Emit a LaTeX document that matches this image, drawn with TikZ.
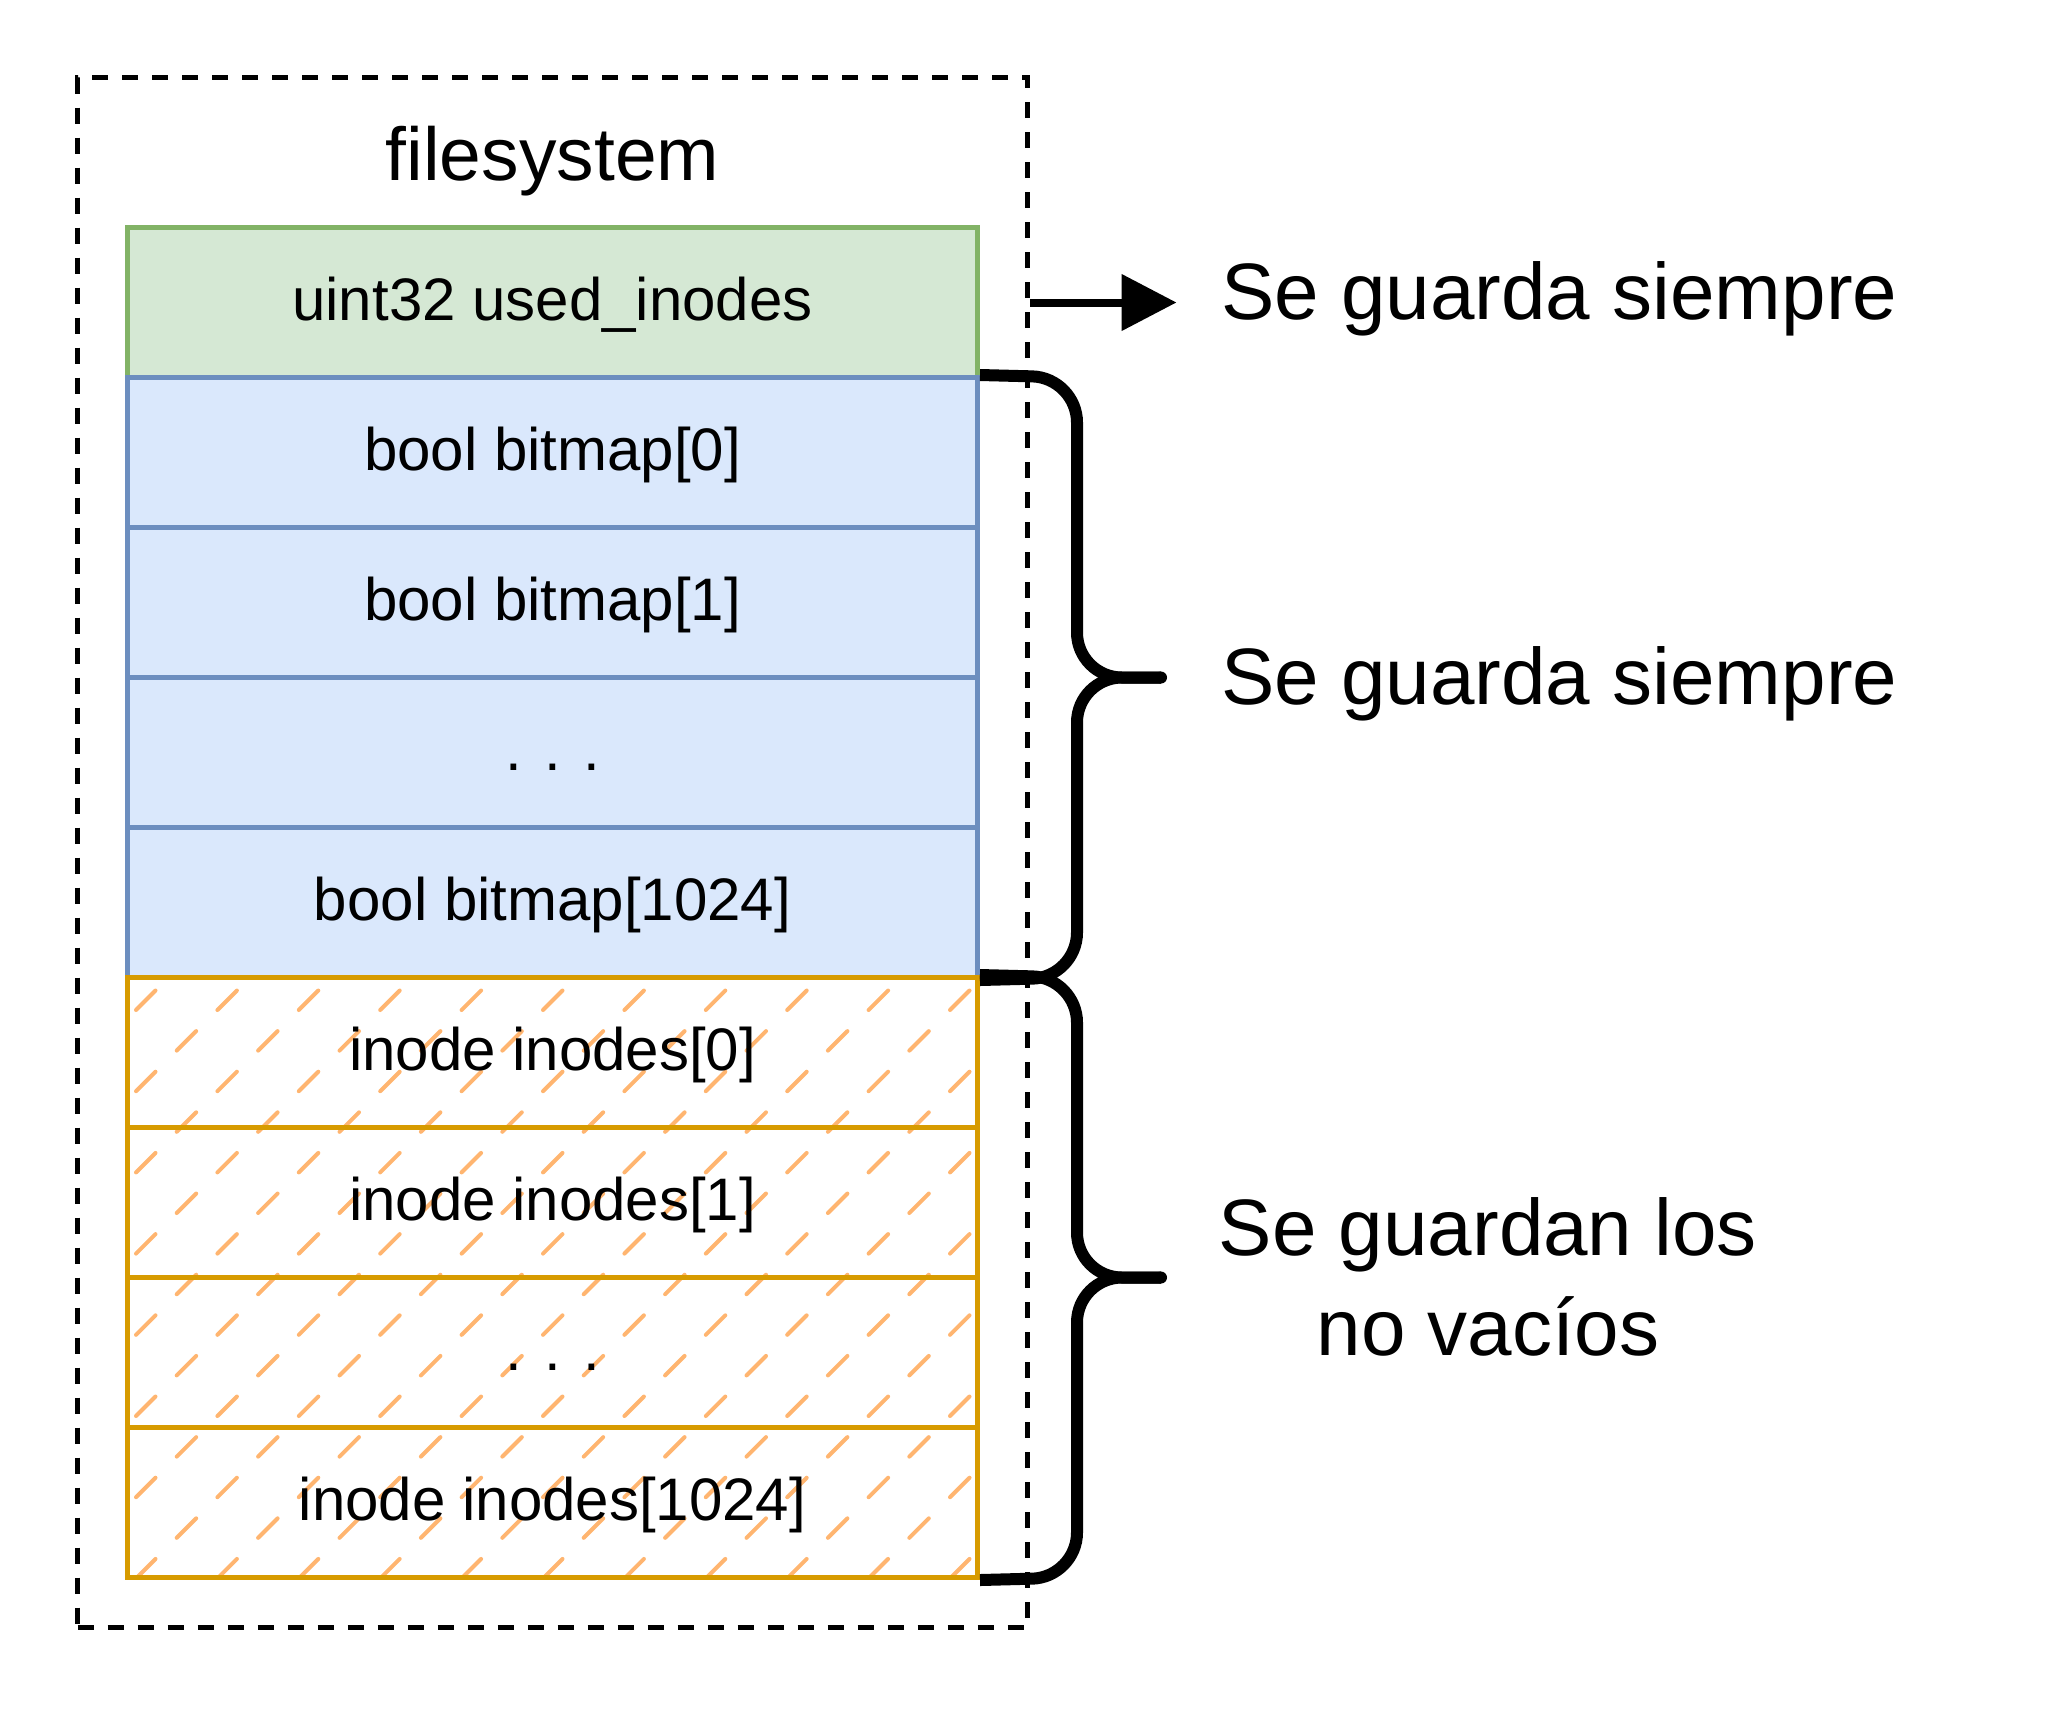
\documentclass[tikz,border=0pt]{standalone}
\usepackage{fontspec}
\setmainfont{Liberation Sans}
\usetikzlibrary{arrows.meta,calc}
\definecolor{gfill}{HTML}{D5E8D4}
\definecolor{gline}{HTML}{82B366}
\definecolor{bfill}{HTML}{DAE8FC}
\definecolor{bline}{HTML}{6C8EBF}
\definecolor{oline}{HTML}{D79B00}
\definecolor{hatchc}{HTML}{FFB570}
\begin{document}
\begin{tikzpicture}[x=0.5pt,y=-0.5pt,
  cell/.style={rectangle, minimum width=425pt, minimum height=75pt, inner sep=0pt,
    line width=2.5pt, font=\fontsize{30}{36}\selectfont, text height=21.5pt, text depth=4pt},
  greencell/.style={cell, draw=gline, fill=gfill},
  bluecell/.style={cell, draw=bline, fill=bfill},
  orangecell/.style={cell, draw=oline},
  fsbox/.style={rectangle, draw=black, line width=2.5pt, dash pattern=on 8pt off 7pt,
    minimum width=475pt, minimum height=775pt, inner sep=0pt},
  hatchline/.style={draw=hatchc, line width=2pt, line cap=round},
  bigtext/.style={font=\fontsize{40}{50}\selectfont, inner sep=0pt},
  bracestyle/.style={draw=black, line width=6pt, line cap=butt, rounded corners=22.5pt},
  arrowstyle/.style={draw=black, line width=4pt, -{Triangle[length=27.5pt,width=27.5pt]}}
]
\useasboundingbox (0,0) rectangle (2065,1710);
% outer dashed container
\node[fsbox] (fs) at (552.5,852.5) {};
\node[font=\fontsize{37.5}{45}\selectfont, anchor=base, inner sep=0pt] (title) at (552.5,180) {filesystem};
% hatching of inode area
\begin{scope}
  \clip (127.5,977.5) rectangle (977.5,1577.5);
  \foreach \j in {-1,...,15} {
    \pgfmathsetmacro{\yy}{1011+40.6*\j}
    \pgfmathsetmacro{\xs}{135+40.7*mod(\j+2,2)}
    \foreach \i in {-1,...,11} {
      \draw[hatchline] (\xs+81.4*\i+1,\yy-1) -- ++(19.5,-19.5);
    }
  }
\end{scope}
% cells
\node[greencell] (r1) at (552.5,302.5) {uint32 used\_inodes};
\node[bluecell] (r2) at (552.5,452.5) {bool bitmap[0]};
\node[bluecell] (r3) at (552.5,602.5) {bool bitmap[1]};
\node[bluecell] (r4) at (552.5,752.5) {. . .};
\node[bluecell] (r5) at (552.5,902.5) {bool bitmap[1024]};
\node[orangecell] (r6) at (552.5,1052.5) {inode inodes[0]};
\node[orangecell] (r7) at (552.5,1202.5) {inode inodes[1]};
\node[orangecell] (r8) at (552.5,1352.5) {. . .};
\node[orangecell] (r9) at (552.5,1502.5) {inode inodes[1024]};
% labels
\node[bigtext, anchor=base west] (lab1) at (1221,319) {Se guarda siempre};
\node[bigtext, anchor=base west] (lab2) at (1221,704) {Se guarda siempre};
\node[bigtext, anchor=base, align=center] (lab3) at (1488,1355) {Se guardan los\\no vacíos};
% arrow
\coordinate (atip) at (1176.5,302.5);
\draw[arrowstyle] (r1.east -| fs.east) -- (atip);
% braces
\coordinate (b1tip) at (1161,677.5);
\coordinate (b2tip) at (1161,1277.5);
\draw[bracestyle] (r2.north east) -- (1077,377.5) -- (1077,677.5) -- (b1tip);
\draw[bracestyle] (r5.south east) -- (1077,977.5) -- (1077,677.5) -- (b1tip);
\draw[bracestyle] (r6.north east) -- (1077,977.5) -- (1077,1277.5) -- (b2tip);
\draw[bracestyle] (r9.south east) -- (1077,1577.5) -- (1077,1277.5) -- (b2tip);
\fill[black] (b1tip) circle (3pt);
\fill[black] (b2tip) circle (3pt);
\end{tikzpicture}
\end{document}
